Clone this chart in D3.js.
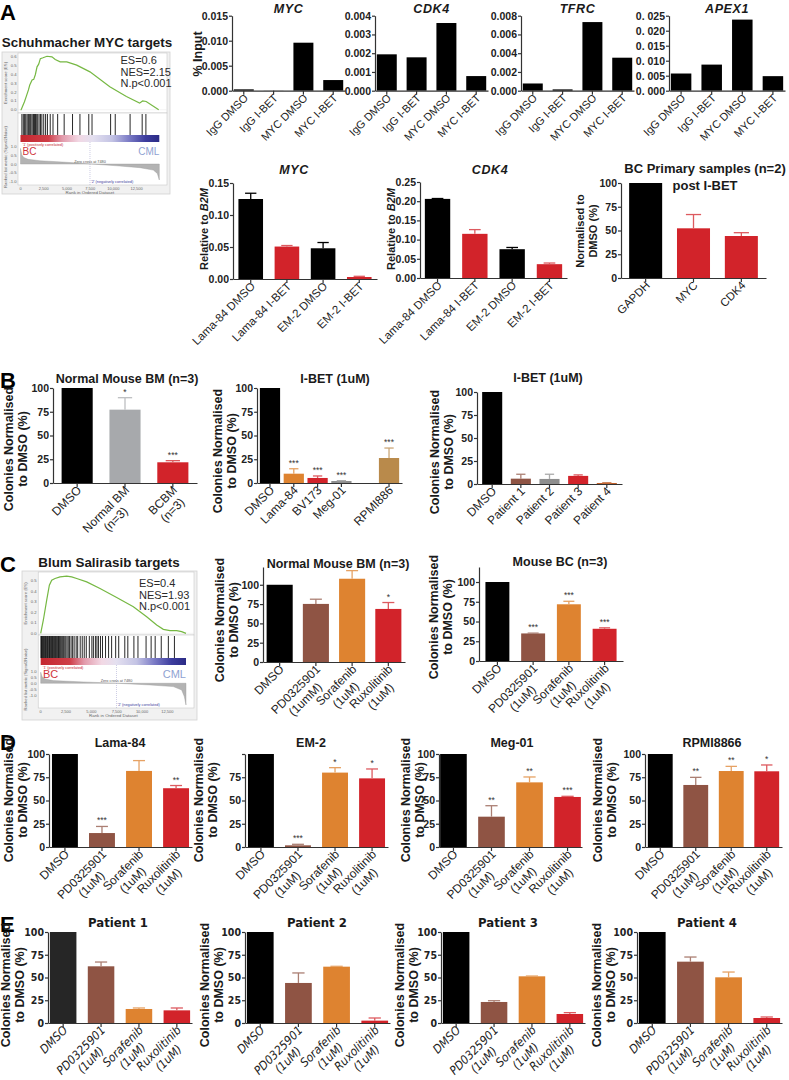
<!DOCTYPE html>
<html><head><meta charset="utf-8">
<script src="https://cdn.jsdelivr.net/npm/d3@7"></script>
<style>
body{margin:0;background:#fff;}
svg{display:block;background:#fff;}
text{font-family:"Liberation Sans",Arial,Helvetica,sans-serif;}
</style></head><body>
<svg id="fig" width="789" height="1080"></svg>
<script>
// ================= DATA =================
// Panel A – ChIP (% input)
const chipCats = ["IgG DMSO","IgG I-BET","MYC DMSO","MYC I-BET"];
const chipMYC = [0.00027,0.00002,0.0096,0.00213];
const chipCDK4 = [0.00194,0.00178,0.00361,0.00078];
const chipTFRC = [0.00077,0.00014,0.00732,0.00352];
const chipAPEX1 = [0.00573,0.0087,0.0237,0.00485];
const chipMYCTicks = [0,0.005,0.010,0.015];
const chipMYCTickLabels = ["0.000","0.005","0.010","0.015"];
const chipCDK4Ticks = [0,0.001,0.002,0.003,0.004];
const chipCDK4TickLabels = ["0.000","0.001","0.002","0.003","0.004"];
const chipTFRCTicks = [0,0.002,0.004,0.006,0.008];
const chipTFRCTickLabels = ["0.000","0.002","0.004","0.006","0.008"];
const chipAPEX1Ticks = [0,0.005,0.010,0.015,0.020,0.025];
const chipAPEX1TickLabels = ["0. 000","0. 005","0. 010","0. 015","0. 020","0. 025"];

// Panel A – qPCR relative to B2M
const qpcrCats = ["Lama-84 DMSO","Lama-84 I-BET","EM-2 DMSO","EM-2 I-BET"];
const qpcrMYC = [0.125,0.0507,0.048,0.0031];
const qpcrMYCSem = [0.009,0.0016,0.009,0.0011];
const qpcrCDK4 = [0.206,0.115,0.075,0.036];
const qpcrCDK4Sem = [0.001,0.011,0.0045,0.003];
const qpcrMYCTicks = [0,0.05,0.10,0.15];
const qpcrMYCTickLabels = ["0.00","0.05","0.10","0.15"];
const qpcrCDK4Ticks = [0,0.05,0.10,0.15,0.20,0.25];
const qpcrCDK4TickLabels = ["0.00","0.05","0.10","0.15","0.20","0.25"];
const primaryCats = ["GAPDH","MYC","CDK4"];
const primaryVals = [100,52.3,44.2];
const primarySem = [0,14.5,3.5];
const pctTicks = [0,25,50,75,100];
const pctTickLabels = ["0","25","50","75","100"];
const pctTicksNo100Label = ["0","25","50","75",""];

// Panel B
const bmCats = ["DMSO","Normal BM\n(n=3)","BCBM\n(n=3)"];
const bmVals = [100,77.2,21.8];
const bmSem = [0,12.6,1.7];
const bmStars = ["","*","***"];
const lineCats = ["DMSO","Lama-84","BV173","Meg-01","RPMI886"];
const lineVals = [100,9.8,5.3,2.1,26.3];
const lineSem = [0,5.2,2.1,0.4,10.5];
const lineStars = ["","***","***","***","***"];
const ptCats = ["DMSO","Patient 1","Patient 2","Patient 3","Patient 4"];
const ptVals = [100,5.8,5.5,8.8,1.1];
const ptSem = [0,4.8,5.1,1.1,0.4];

// Panel C
const drugCatsBM = ["DMSO","PD0325901\n(1umM)","Sorafenib\n(1uM)","Ruxolitinib\n(1uM)"];
const drugCats = ["DMSO","PD0325901\n(1uM)","Sorafenib\n(1uM)","Ruxolitinib\n(1uM)"];
const cBMVals = [100,75.2,107.8,68.7];
const cBMSem = [0,6.1,10.5,8.3];
const cBMStars = ["","","","*"];
const cBCVals = [100,34.9,71.8,40.8];
const cBCSem = [0,0.4,3.8,1.2];
const cBCStars = ["","***","***","***"];
const cTicks = [0,25,50,75,100];
const cTickLabels = ["0","25","50","75","100"];

// Panel D
const dLamaVals = [100,15,81.8,63.2];
const dLamaSem = [0,7.1,11.1,2.9];
const dLamaStars = ["","***","","**"];
const dEM2Vals = [100,1.8,80,73.8];
const dEM2Sem = [0,1.1,5.3,10.1];
const dEM2Stars = ["","***","*","*"];
const dMegVals = [100,32.6,69.5,53.8];
const dMegSem = [0,11.8,5.8,0.7];
const dMegStars = ["","**","**","***"];
const dRpmiVals = [100,66.7,81.7,81.4];
const dRpmiSem = [0,8.2,5.0,6.8];
const dRpmiStars = ["","**","**","*"];

// Panel E
const eP1Vals = [100,62.3,15.4,13.9];
const eP1Sem = [0,4.7,1.1,2.6];
const eP2Vals = [100,44,61.9,2.6];
const eP2Sem = [0,11,0.4,2.9];
const eP3Vals = [100,23.1,51.3,9.9];
const eP3Sem = [0,1.4,0.3,1.5];
const eP4Vals = [100,67.4,50.2,5.5];
const eP4Sem = [0,5.1,5.8,1.1];

// GSEA – Schuhmacher MYC targets
const gseaAStats = ["ES=0.6","NES=2.15","N.p<0.001"];
const gseaAEsRank = [0,70,213,427,641,855,997,1247,1425,1603,1781,1959,2137,2422,2850,3385,3740,4274,4986,6054,7479,9615,11400,12820,13150,13530,14880];
const gseaAEs = [0,0,0.037,0.09,0.157,0.225,0.281,0.337,0.345,0.40,0.487,0.517,0.58,0.59,0.607,0.60,0.57,0.543,0.543,0.506,0.43,0.262,0.15,0.075,0.1,0.094,0];
const gseaAHits = [150,300,420,560,700,820,900,1000,1100,1230,1350,1420,1500,1620,1700,1850,2000,2150,2300,2500,2700,2900,3200,3500,4000,4700,5600,6400,7350,7700,9700,10200,11800,13100,13500];
const gseaAMetricRank = [0,144,359,826,2083,4957,7651,10345,12859,14296,14727,14943];
const gseaAMetric = [0.9,0.52,0.37,0.27,0.19,0.10,0,-0.1,-0.21,-0.35,-0.54,-0.92];
const gseaAxTicks = [0,2500,5000,7500,10000,12500];
const gseaAxTickLabels = ["0","2,500","5,000","7,500","10,000","12,500"];
const gseaAEsTicks = [0,0.1,0.2,0.3,0.4,0.5,0.6];
const gseaMetricTicks = [-1,-0.5,0,0.5,1];
const gseaMetricTickLabels = ["-1.0","-0.5","0.0","0.5","1.0"];

// GSEA – Blum Salirasib targets
const gseaCStats = ["ES=0.4","NES=1.93","N.p<0.001"];
const gseaCEsRank = [0,263,592,855,1086,1414,1908,2566,3059,3553,4540,5855,7500,9145,10460,11447,12105,12763,13421,13914,14342];
const gseaCEs = [0,0.127,0.316,0.459,0.506,0.522,0.538,0.544,0.538,0.522,0.49,0.427,0.342,0.253,0.158,0.079,0.038,0.025,0.025,0.016,0];
const gseaCHits = [20,80,140,200,260,330,400,460,520,600,660,720,800,870,940,1010,1080,1160,1230,1300,1380,1450,1530,1600,1680,1760,1840,1920,2000,2090,2180,2270,2380,2480,2600,2720,2850,3000,3150,3300,3500,3650,3900,4100,4300,4500,4800,5050,5200,5400,5550,5700,5900,6100,6400,6700,7000,7400,7700,8300,8600,9200,9600,10400,10900,11300,11900,12600,13200];
const gseaCMetricRank = [0,132,428,1250,4210,7500,10790,13092,13914,14177,14342];
const gseaCMetric = [0.92,0.55,0.36,0.22,0.11,0,-0.14,-0.28,-0.56,-1.11,-1.81];
const gseaCEsTicks = [0,0.1,0.2,0.3,0.4,0.5];

// ================= DRAWING =================
const svg = d3.select("#fig");
const NARROW = '"Liberation Sans Narrow","DejaVu Sans Condensed","Liberation Sans",Arial,sans-serif';
const BLACK="#000000", RED="#d2232a", BROWN="#8f5444", ORANGE="#de8330", LGREY="#a7a9ac",
      MGREY="#8e8e8e", TAN="#b98a4b", RUST="#c0602a", DARK="#262626";
const drugColors = [BLACK,BROWN,ORANGE,RED];

function errColor(c){ return c===BLACK||c===DARK ? c : d3.interpolateRgb(c,"#ffffff")(0.25); }

function barChart(o){
  const g = svg.append("g");
  // optional empty slot (visual gap) before a given category
  const slots = [];
  o.cats.forEach((c,i)=>{ if (o.gapBefore===i) slots.push("__gap__"); slots.push(c); });
  const x = d3.scaleBand().domain(slots).range([o.ax,o.axEnd]).paddingInner(o.pi).paddingOuter(o.po);
  const y = d3.scaleLinear().domain([0,o.yMax]).range([o.y0,o.yTop]);
  const bw = x.bandwidth();
  const tickFont = o.narrow ? NARROW : null;
  g.selectAll("rect.bar").data(o.vals).join("rect").attr("class","bar")
    .attr("x",(d,i)=>x(o.cats[i])).attr("width",bw)
    .attr("y",d=>y(d)).attr("height",d=>Math.max(0,y(0)-y(d)))
    .attr("fill",(d,i)=>o.colors[i]);
  o.vals.forEach((v,i)=>{
    const s = o.sem ? o.sem[i] : 0;
    const cx = x(o.cats[i])+bw/2;
    if (s>0){
      const ec = errColor(o.colors[i]);
      g.append("line").attr("x1",cx).attr("x2",cx).attr("y1",y(v)).attr("y2",y(v+s)).attr("stroke",ec).attr("stroke-width",1.3);
      g.append("line").attr("x1",cx-bw*0.23).attr("x2",cx+bw*0.23).attr("y1",y(v+s)).attr("y2",y(v+s)).attr("stroke",ec).attr("stroke-width",1.3);
    }
    if (o.stars && o.stars[i]){
      g.append("text").attr("x",cx).attr("y",y(v+s)-3).attr("text-anchor","middle")
        .attr("font-size",8.5).attr("fill","#333").text(o.stars[i]);
    }
  });
  // axes
  const gy = g.append("g").attr("transform",`translate(${o.ax},0)`)
    .call(d3.axisLeft(y).tickValues(o.ticks).tickFormat((d,i)=>o.tickLabels[i]).tickSize(3).tickSizeOuter(0).tickPadding(1));
  const gx = g.append("g").attr("transform",`translate(0,${o.y0})`)
    .call(d3.axisBottom(x).tickValues(o.cats).tickSize(4).tickSizeOuter(0).tickFormat(""));
  [gy,gx].forEach(a=>{
    a.selectAll("path,line").attr("stroke","#333").attr("stroke-width",1.2);
  });
  gy.selectAll("text").attr("font-size",o.tickSize||10.5).attr("font-weight","bold").attr("fill","#222")
    .style("font-family",tickFont);
  // x labels
  const fs = o.xFont||11.5;
  o.cats.forEach(c=>{
    const lines = c.split("\n");
    const cx = x(c)+bw/2;
    const tg = g.append("g").attr("transform",`translate(${cx+5},${o.y0+8}) rotate(-45)`);
    const t1 = tg.append("text").attr("text-anchor","end").attr("font-size",fs).attr("fill","#222")
      .attr("font-style",o.italicX?"italic":null).style("font-family",tickFont).text(lines[0]);
    if (lines[1]){
      const w = t1.node().getComputedTextLength();
      tg.append("text").attr("text-anchor","middle").attr("x",-w/2).attr("y",fs*1.15).attr("font-size",fs)
        .attr("fill","#222").attr("font-style",o.italicX?"italic":null).style("font-family",tickFont).text(lines[1]);
    }
  });
  // title
  if (o.title){
    o.title.forEach((t,i)=>{
      g.append("text").attr("x",o.titleX!==undefined?o.titleX:(o.ax+o.axEnd)/2).attr("y",o.titleY+i*17)
        .attr("text-anchor","middle").attr("font-size",o.titleSize||12.5).attr("font-weight","bold")
        .attr("font-style",o.titleItalic?"italic":null).attr("letter-spacing",o.titleItalic?0.6:null)
        .attr("fill","#1a1a1a").style("font-family",o.narrow?NARROW:null).text(t);
    });
  }
  // y label
  if (o.ylab){
    const lh = o.ylabLH||14;
    const t = svg.append("text").attr("transform",`translate(${o.ylabX},${o.ylabY}) rotate(-90)`)
      .attr("text-anchor","middle").attr("font-size",o.ylabSize||12.5).attr("font-weight","bold").attr("fill","#1a1a1a");
    o.ylab.forEach((l,i)=>{
      const ts = t.append("tspan").attr("x",0).attr("dy", i===0 ? (-(o.ylab.length-1)*lh/2 + 4.5) : lh);
      if (Array.isArray(l)){ l.forEach(p=>ts.append("tspan").attr("font-style",p[1]?"italic":null).text(p[0])); }
      else ts.text(l);
    });
  }
}

function panelLetter(t,x,y){
  svg.append("text").attr("x",x).attr("y",y).attr("font-size",22).attr("font-weight","bold").attr("fill","#000").text(t);
}

// ---------- GSEA ----------
const defs = svg.append("defs");
function grad(id){
  const lg = defs.append("linearGradient").attr("id",id).attr("x1","0%").attr("x2","100%").attr("y1","0%").attr("y2","0%");
  [["0","#c4262e"],["0.2","#cf3e48"],["0.3","#e29aab"],["0.42","#f2d8e4"],["0.52","#e4e0f0"],["0.66","#c3c3e4"],["0.78","#7c7cc6"],["0.9","#3d3d9e"],["1","#2b2b85"]]
    .forEach(s=>lg.append("stop").attr("offset",s[0]).attr("stop-color",s[1]));
}
grad("gsgrad");

function gsea(o){
  const g = svg.append("g");
  g.append("text").attr("x",o.titleX).attr("y",o.titleY).attr("text-anchor","middle").attr("font-size",13.4)
    .attr("font-weight","bold").attr("fill","#1a1a1a").text(o.title);
  g.append("rect").attr("x",o.box[0]).attr("y",o.box[1]).attr("width",o.box[2]-o.box[0]).attr("height",o.box[3]-o.box[1])
    .attr("fill","#f1f1f1").attr("stroke","#d2d2d2").attr("stroke-width",0.8);
  const x = d3.scaleLinear().domain([0,o.N]).range([o.px0,o.px1]);
  const rx0 = o.px0-2.5, rx1 = o.box[2]-3;
  g.append("rect").attr("x",rx0).attr("y",o.es[0]).attr("width",rx1-rx0).attr("height",o.es[1]-o.es[0]).attr("fill","#fff").attr("stroke","#c8c8c8").attr("stroke-width",0.6);
  g.append("rect").attr("x",rx0).attr("y",o.hit[0]).attr("width",rx1-rx0).attr("height",o.mt[1]-o.hit[0]).attr("fill","#fff").attr("stroke","#c8c8c8").attr("stroke-width",0.6);
  // ES curve
  const yE = d3.scaleLinear().domain(o.esDom).range([o.es[1],o.es[0]]);
  g.append("line").attr("x1",rx0).attr("x2",rx1).attr("y1",yE(0)).attr("y2",yE(0)).attr("stroke","#e6e6e6").attr("stroke-width",0.5);
  g.append("path").datum(o.esRank.map((r,i)=>[r,o.esVals[i]]))
    .attr("d",d3.line().x(d=>x(d[0])).y(d=>yE(d[1])))
    .attr("fill","none").attr("stroke","#76b843").attr("stroke-width",1.2);
  o.esTicks.forEach(t=>{
    g.append("text").attr("x",rx0-1.5).attr("y",yE(t)+1.5).attr("text-anchor","end").attr("font-size",4.2).attr("fill","#666").text(t.toFixed(1));
  });
  g.append("text").attr("transform",`translate(${o.box[0]+5},${(o.es[0]+o.es[1])/2}) rotate(-90)`).attr("text-anchor","middle")
    .attr("font-size",4.2).attr("fill","#666").text("Enrichment score (ES)");
  o.stats.forEach((s,i)=>{
    g.append("text").attr("x",o.statX).attr("y",o.statY+i*11.5).attr("font-size",11).attr("fill","#2a2a2a").text(s);
  });
  // hits
  o.hits.forEach(h=>{
    g.append("line").attr("x1",x(h)).attr("x2",x(h)).attr("y1",o.hit[0]+1).attr("y2",o.hit[1]).attr("stroke","#111").attr("stroke-width",0.9);
  });
  // color bar
  g.append("rect").attr("x",o.px0).attr("y",o.hit[1]).attr("width",o.px1-o.px0).attr("height",o.cb).attr("fill","url(#gsgrad)");
  // metric
  const yM = d3.scaleLinear().domain(o.mDom).range([o.mt[1],o.mt[0]]);
  g.append("path").datum(o.mRank.map((r,i)=>[r,o.mVals[i]]))
    .attr("d",d3.area().x(d=>x(d[0])).y0(yM(0)).y1(d=>yM(d[1])))
    .attr("fill","#b3b3b3").attr("stroke","#9a9a9a").attr("stroke-width",0.4);
  g.append("line").attr("x1",x(7480)).attr("x2",x(7480)).attr("y1",o.mt[0]).attr("y2",o.mt[1]).attr("stroke","#9a9ac8").attr("stroke-width",0.5).attr("stroke-dasharray","1,1");
  gseaMetricTicks.forEach((t,i)=>{
    g.append("text").attr("x",rx0-1.5).attr("y",yM(t)+1.5).attr("text-anchor","end").attr("font-size",4.2).attr("fill","#666").text(gseaMetricTickLabels[i]);
  });
  g.append("text").attr("transform",`translate(${o.box[0]+5},${(o.hit[0]+o.mt[1])/2+8}) rotate(-90)`).attr("text-anchor","middle")
    .attr("font-size",4.2).attr("fill","#666").text("Ranked list metric (Signal2Noise)");
  g.append("text").attr("x",o.px0+2).attr("y",o.hit[1]+o.cb+4).attr("font-size",3.8).attr("fill","#c4262e").text("'1' (positively correlated)");
  g.append("text").attr("x",x(7480)).attr("y",yM(0)-1.5).attr("text-anchor","middle").attr("font-size",3.8).attr("fill","#555").text("Zero cross at 7480");
  g.append("text").attr("x",x(7480)+1).attr("y",o.mt[1]-2).attr("font-size",3.8).attr("fill","#3d3d9e").text("'2' (negatively correlated)");
  g.append("text").attr("x",o.bcX).attr("y",o.bcY).attr("font-size",o.bcSize).attr("fill","#d0343c").text("BC");
  g.append("text").attr("x",o.px1).attr("y",o.bcY).attr("text-anchor","end").attr("font-size",o.bcSize).attr("fill","#8fa2d2").text("CML");
  gseaAxTicks.forEach((t,i)=>{
    g.append("text").attr("x",x(t)).attr("y",o.mt[1]+4.5).attr("text-anchor","middle").attr("font-size",4).attr("fill","#666").text(gseaAxTickLabels[i]);
  });
  g.append("text").attr("x",(o.px0+o.px1)/2).attr("y",o.mt[1]+9).attr("text-anchor","middle").attr("font-size",4.4).attr("fill","#666").text("Rank in Ordered Dataset");
}

// ---------- Panel A ----------
panelLetter("A",0,20);
gsea({title:"Schuhmacher MYC targets",titleX:87,titleY:47,box:[2,52,170,194],N:14943,px0:20.5,px1:159.3,
  es:[53,113],esDom:[-0.037,0.644],esRank:gseaAEsRank,esVals:gseaAEs,esTicks:gseaAEsTicks,
  stats:gseaAStats,statX:120.5,statY:64,hits:gseaAHits,hit:[113,135],cb:7,
  mt:[142,185],mDom:[-1.21,1.27],mRank:gseaAMetricRank,mVals:gseaAMetric,bcX:22.5,bcY:155,bcSize:10});

const chipCommon = {y0:90.7,yTop:15.7,pi:0.33,po:0.06,colors:[BLACK,BLACK,BLACK,BLACK],xFont:11,titleY:12.5,titleItalic:true,titleSize:12.5};
barChart({...chipCommon,cats:chipCats,vals:chipMYC,yMax:0.015,ticks:chipMYCTicks,tickLabels:chipMYCTickLabels,ax:232,axEnd:345,
  title:["MYC"],ylab:["% Input"],ylabX:197,ylabY:54});
barChart({...chipCommon,cats:chipCats,vals:chipCDK4,yMax:0.004,ticks:chipCDK4Ticks,tickLabels:chipCDK4TickLabels,ax:375,axEnd:488,title:["CDK4"]});
barChart({...chipCommon,cats:chipCats,vals:chipTFRC,yMax:0.008,ticks:chipTFRCTicks,tickLabels:chipTFRCTickLabels,ax:521,axEnd:634,title:["TFRC"]});
barChart({...chipCommon,cats:chipCats,vals:chipAPEX1,yMax:0.025,ticks:chipAPEX1Ticks,tickLabels:chipAPEX1TickLabels,ax:669,axEnd:785,title:["APEX1"]});

barChart({cats:qpcrCats,vals:qpcrMYC,sem:qpcrMYCSem,colors:[BLACK,RED,BLACK,RED],yMax:0.15,ticks:qpcrMYCTicks,tickLabels:qpcrMYCTickLabels,
  ax:233,axEnd:377,y0:279,yTop:183,pi:0.32,po:0.15,xFont:11.5,title:["MYC"],titleItalic:true,titleX:294,titleY:174,
  ylab:[[["Relative to ",false],["B2M",true]]],ylabX:203,ylabY:229,ylabSize:11});
barChart({cats:qpcrCats,vals:qpcrCDK4,sem:qpcrCDK4Sem,colors:[BLACK,RED,BLACK,RED],yMax:0.25,ticks:qpcrCDK4Ticks,tickLabels:qpcrCDK4TickLabels,
  ax:420,axEnd:567,y0:278,yTop:182,pi:0.32,po:0.13,xFont:11.5,title:["CDK4"],titleItalic:true,titleX:490,titleY:174,
  ylab:[[["Relative to ",false],["B2M",true]]],ylabX:390,ylabY:229,ylabSize:11});
barChart({cats:primaryCats,vals:primaryVals,sem:primarySem,colors:[BLACK,RED,RED],yMax:100,ticks:pctTicks,tickLabels:pctTickLabels,
  ax:621,axEnd:766,y0:278,yTop:183,pi:0.31,po:0.17,xFont:11.5,title:["BC Primary samples (n=2)","post I-BET"],titleX:705,titleY:173,titleSize:13,
  ylab:["Normalised to","DMSO (%)"],ylabX:586,ylabY:231,ylabSize:11,ylabLH:12.5});

// ---------- Panel B ----------
panelLetter("B",0,388);
const colY = ["Colonies Normalised","to DMSO (%)"];
barChart({cats:bmCats,vals:bmVals,sem:bmSem,stars:bmStars,colors:[BLACK,LGREY,RED],yMax:100,ticks:pctTicks,tickLabels:pctTickLabels,
  ax:53,axEnd:197,y0:483,yTop:388,pi:0.35,po:0.18,xFont:12,title:["Normal Mouse BM (n=3)"],titleX:127,titleY:383,
  ylab:colY,ylabX:15,ylabY:449});
barChart({cats:lineCats,vals:lineVals,sem:lineSem,stars:lineStars,colors:[BLACK,ORANGE,RED,MGREY,TAN],yMax:100,ticks:pctTicks,tickLabels:pctTickLabels,
  ax:257,axEnd:402,gapBefore:4,y0:483,yTop:388,pi:0.15,po:0.12,xFont:12,title:["I-BET (1uM)"],titleX:335,titleY:383,
  ylab:colY,ylabX:224,ylabY:451});
barChart({cats:ptCats,vals:ptVals,sem:ptSem,colors:[BLACK,BROWN,MGREY,RED,RUST],yMax:100,ticks:pctTicks,tickLabels:pctTickLabels,
  ax:477,axEnd:622,y0:484,yTop:392,pi:0.3,po:0.18,xFont:12,title:["I-BET (1uM)"],titleX:548,titleY:382,
  ylab:colY,ylabX:441,ylabY:452});

// ---------- Panel C ----------
panelLetter("C",0,572);
gsea({title:"Blum Salirasib targets",titleX:109,titleY:567,box:[22,571,197,720],N:14342,px0:40.7,px1:186,
  es:[572,635],esDom:[-0.016,0.584],esRank:gseaCEsRank,esVals:gseaCEs,esTicks:gseaCEsTicks,
  stats:gseaCStats,statX:139,statY:587,hits:gseaCHits,hit:[635,658],cb:7,
  mt:[665,708],mDom:[-2.06,1.52],mRank:gseaCMetricRank,mVals:gseaCMetric,bcX:43,bcY:678,bcSize:11});
barChart({cats:drugCatsBM,vals:cBMVals,sem:cBMSem,stars:cBMStars,colors:drugColors,yMax:123,ticks:cTicks,tickLabels:cTickLabels,
  ax:263,axEnd:405,y0:662,yTop:567,pi:0.28,po:0.1,xFont:12,title:["Normal Mouse BM (n=3)"],titleX:338,titleY:568,
  ylab:colY,ylabX:226,ylabY:620});
barChart({cats:drugCats,vals:cBCVals,sem:cBCSem,stars:cBCStars,colors:drugColors,yMax:119,ticks:cTicks,tickLabels:cTickLabels,
  ax:479,axEnd:623,y0:661,yTop:567,pi:0.33,po:0.18,xFont:12,title:["Mouse BC (n=3)"],titleX:560,titleY:566,
  ylab:colY,ylabX:440,ylabY:617});

// ---------- Panel D ----------
panelLetter("D",0,750);
const dCommon = {cats:drugCats,colors:drugColors,yMax:100,ticks:pctTicks,tickLabels:pctTickLabels,y0:847,yTop:754,pi:0.3,po:0.08,xFont:12,titleY:747,ylab:colY,ylabY:800};
barChart({...dCommon,vals:dLamaVals,sem:dLamaSem,stars:dLamaStars,ax:49,axEnd:192,title:["Lama-84"],titleX:120,ylabX:15});
barChart({...dCommon,vals:dEM2Vals,sem:dEM2Sem,stars:dEM2Stars,tickLabels:pctTicksNo100Label,ax:245,axEnd:388,title:["EM-2"],titleX:311,ylabX:205});
barChart({...dCommon,vals:dMegVals,sem:dMegSem,stars:dMegStars,ax:439,axEnd:582,po:0.03,title:["Meg-01"],titleX:512,ylabX:412});
barChart({...dCommon,vals:dRpmiVals,sem:dRpmiSem,stars:dRpmiStars,ax:645,axEnd:782,title:["RPMI8866"],titleX:712,ylabX:604});

// ---------- Panel E ----------
panelLetter("E",0,932);
const eCommon = {cats:drugCats,colors:drugColors,yMax:100,ticks:pctTicks,tickLabels:pctTickLabels,y0:1023,yTop:932,pi:0.3,po:0.05,
  xFont:12,titleY:927,ylab:colY,ylabY:985,narrow:true,italicX:true,titleSize:13};
barChart({...eCommon,colors:[DARK,BROWN,ORANGE,RED],vals:eP1Vals,sem:eP1Sem,ax:48,axEnd:192,title:["Patient 1"],titleX:118,ylabX:12});
barChart({...eCommon,vals:eP2Vals,sem:eP2Sem,ax:245,axEnd:390,title:["Patient 2"],titleX:317,ylabX:211});
barChart({...eCommon,vals:eP3Vals,sem:eP3Sem,ax:441,axEnd:585,title:["Patient 3"],titleX:508,ylabX:406});
barChart({...eCommon,vals:eP4Vals,sem:eP4Sem,ax:637,axEnd:782,title:["Patient 4"],titleX:707,ylabX:603});
</script>
</body></html>
